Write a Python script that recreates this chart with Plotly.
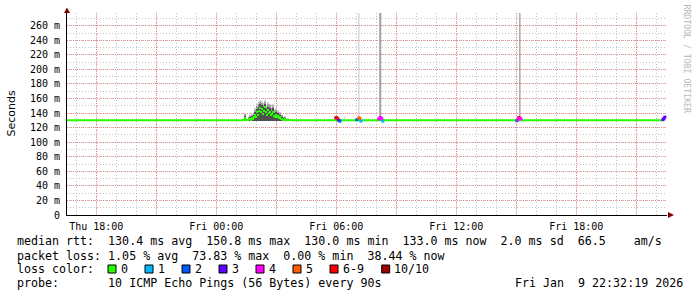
import plotly.graph_objects as go
import pandas as pd
import numpy as np

# ---------------- data ----------------
T_START = "2026-01-08 16:32:19"
T_END = "2026-01-09 22:32:19"

# smoke bump (Fri early morning), one RRD step (3 min) per value, starting 01:20
BUMP_START = "2026-01-09 01:20"
BUMP_STEP_MIN = 3
smoke_min = [129.5] * 49
smoke_max = [131, 131, 140, 133, 131, 132, 135, 137, 134, 139, 136, 141, 147, 144, 152, 149,
             155, 158, 153, 157, 149, 154, 158, 151, 147, 155, 150, 153, 146, 149, 152, 145,
             143, 147, 141, 144, 139, 142, 137, 138, 135, 134, 136, 133, 132, 133, 131, 132, 131]
smoke_q3 = [130.8, 130.8, 138.4, 132.5, 130.8, 131.6, 134.1, 135.8, 133.1, 137.5, 134.9, 139.3,
            144.5, 141.8, 149.3, 146.3, 152, 155.3, 150, 154, 146.5, 151.3, 155.8, 148.5, 144.5,
            152.3, 147.5, 150.5, 143.8, 146.5, 149.5, 142.8, 141, 144.8, 139.3, 142, 137.5, 140,
            135.8, 136.8, 134, 133.3, 135, 132.4, 131.5, 132.4, 130.8, 131.5, 130.8]
smoke_q2 = [130.4, 130.4, 136.5, 131.9, 130.4, 131.2, 133.1, 134.3, 132.1, 135.7, 133.5, 137.2,
            141.5, 139, 146, 143, 148.5, 152, 146.5, 150.5, 143.5, 148, 153, 145.5, 141.5, 149,
            144.5, 147, 141, 143.5, 146.5, 140, 138.5, 142, 137, 139.5, 135.5, 137.5, 134, 134.5,
            132.8, 132.3, 133.8, 131.6, 130.9, 131.6, 130.4, 130.9, 130.4]
bump_median = [130, 130, 133.5, 131, 130, 130.5, 131.5, 132, 130.5, 133, 131.5, 134, 137, 135,
               141, 138, 143, 147, 141, 145, 139, 143, 149, 141, 137, 144, 140, 142, 137, 139,
               142, 136, 135, 138, 134, 136, 133, 134.5, 132, 132.5, 131, 131, 132, 130.5, 130,
               130.5, 130, 130, 130]

# median rtt line outside the bump
median_times_before = ["2026-01-08 16:32:19", "2026-01-09 01:19"]
median_before = [130.0, 130.0]
median_times_after = ["2026-01-09 03:46", "2026-01-09 03:59", "2026-01-09 04:02", "2026-01-09 04:05",
                      "2026-01-09 22:19"]
median_after = [130.0, 130.0, 131.0, 130.0, 130.0]

# spikes (single pings far above the median)
spike_times = ["2026-01-09 06:26", "2026-01-09 07:08", "2026-01-09 08:12", "2026-01-09 12:59",
               "2026-01-09 15:11"]
spike_low = [131, 131, 131, 131, 131]
spike_high = [136, 400, 400, 134, 400]
spike_colors = ["#cfcfcf", "#c8c8c8", "#a0a0a0", "#d4d4d4", "#808080"]
spike_widths = [1, 1, 2, 1, 1]

# loss-coloured median samples
loss_times = ["2026-01-09 05:59", "2026-01-09 06:02", "2026-01-09 06:05", "2026-01-09 06:08",
              "2026-01-09 06:11",
              "2026-01-09 07:02", "2026-01-09 07:08", "2026-01-09 07:11", "2026-01-09 07:14",
              "2026-01-09 08:08", "2026-01-09 08:11", "2026-01-09 08:14", "2026-01-09 08:17",
              "2026-01-09 08:20",
              "2026-01-09 15:02", "2026-01-09 15:05", "2026-01-09 15:08", "2026-01-09 15:11",
              "2026-01-09 15:14",
              "2026-01-09 22:20", "2026-01-09 22:23", "2026-01-09 22:26"]
loss_values = [133.5, 133.5, 132, 130, 129,
               131, 133.5, 132.5, 129,
               132, 133.5, 133.5, 132, 129,
               129.5, 131, 134, 133, 132,
               131, 132.5, 134.5]
loss_levels = [7, 6, 6, 3, 2,
               2, 5, 5, 1,
               4, 4, 4, 4, 1,
               2, 4, 6, 4, 4,
               3, 3, 3]

loss_labels = ["0", "1", "2", "3", "4", "5", "6-9", "10/10"]
loss_palette = ["#26ff00", "#00b8ff", "#0059ff", "#5e00ff", "#ff00ff", "#ff5e00", "#ff0000", "#a00000"]

y_tick_values = [0, 20, 40, 60, 80, 100, 120, 140, 160, 180, 200, 220, 240, 260]
y_tick_labels = ["0", "20 m", "40 m", "60 m", "80 m", "100 m", "120 m", "140 m", "160 m",
                 "180 m", "200 m", "220 m", "240 m", "260 m"]
x_tick_values = ["2026-01-08 18:00", "2026-01-08 21:00", "2026-01-09 00:00", "2026-01-09 03:00",
                 "2026-01-09 06:00", "2026-01-09 09:00", "2026-01-09 12:00", "2026-01-09 15:00",
                 "2026-01-09 18:00", "2026-01-09 21:00"]
x_tick_labels = ["Thu 18:00", "", "Fri 00:00", "", "Fri 06:00", "", "Fri 12:00", "",
                 "Fri 18:00", ""]

line_rtt = "median rtt:  130.4 ms avg  150.8 ms max  130.0 ms min  133.0 ms now  2.0 ms sd  66.5    am/s"
line_loss = "packet loss: 1.05 % avg  73.83 % max  0.00 % min  38.44 % now"
line_probe = "probe:       10 ICMP Echo Pings (56 Bytes) every 90s"
line_date = "Fri Jan  9 22:32:19 2026"

# ---------------- layout geometry ----------------
W, H = 697, 297
L, R, TOP, BOT = 67, 30, 13, 82
PW = W - L - R
PH = H - TOP - BOT
MONO = "DejaVu Sans Mono"


def fx(px):
    return (px - L) / PW


def fy(py):
    return (H - BOT - py) / PH


def dt(values):
    return pd.to_datetime(values, format="ISO8601")


fig = go.Figure()

bt = pd.date_range(BUMP_START, periods=len(bump_median), freq=f"{BUMP_STEP_MIN}min")
lo = np.array(smoke_min)
bar_w = BUMP_STEP_MIN * 60 * 1000
for top, col in [(smoke_max, "#cccccc"), (smoke_q3, "#9c9c9c"), (smoke_q2, "#505050")]:
    fig.add_trace(go.Bar(x=bt, base=lo, y=np.array(top) - lo, width=bar_w,
                         marker=dict(color=col, line=dict(width=0)), hoverinfo="skip"))

for t, a, b, c, w in zip(spike_times, spike_low, spike_high, spike_colors, spike_widths):
    fig.add_trace(go.Scatter(x=[t, t], y=[a, b], mode="lines",
                             line=dict(color=c, width=w), hoverinfo="skip"))

# flat parts of the median line
for xs, ys in [(median_times_before, median_before), (median_times_after, median_after)]:
    fig.add_trace(go.Scatter(x=dt(xs), y=ys, mode="lines",
                             line=dict(color=loss_palette[0], width=2), hoverinfo="skip"))
# median inside the bump: drawn per step as a thin band (SmokePing style)
MED_THICK = 2.75
fig.add_trace(go.Bar(x=bt, base=np.array(bump_median) - MED_THICK / 2,
                     y=[MED_THICK] * len(bump_median), width=bar_w,
                     marker=dict(color=loss_palette[0], line=dict(width=0)), hoverinfo="skip"))

fig.add_trace(go.Scatter(x=dt(loss_times), y=loss_values, mode="markers",
                         marker=dict(symbol="square", size=3,
                                     color=[loss_palette[i] for i in loss_levels],
                                     line=dict(width=0)),
                         hoverinfo="skip"))

MGRID = "rgba(222,79,79,0.55)"
GRID = "rgba(143,143,143,0.55)"

fig.update_xaxes(type="date", range=[T_START, T_END],
                 tickmode="array", tickvals=x_tick_values, ticktext=x_tick_labels,
                 tickfont=dict(family=MONO, size=10, color="#000"),
                 showgrid=True, gridcolor=MGRID, griddash="1px,1px", gridwidth=1,
                 minor=dict(showgrid=True, dtick=3600000, tick0="2026-01-08 17:00",
                            gridcolor=GRID, griddash="1px,2px", gridwidth=1),
                 showline=True, linecolor="#000", linewidth=1, zeroline=False,
                 ticks="", ticklabelstandoff=2)
fig.update_yaxes(range=[0, 277.5], tickmode="array", tickvals=y_tick_values,
                 ticktext=y_tick_labels,
                 tickfont=dict(family=MONO, size=10, color="#000"),
                 showgrid=True, gridcolor=MGRID, griddash="1px,1px", gridwidth=1,
                 minor=dict(showgrid=True, dtick=10, tick0=0,
                            gridcolor=GRID, griddash="1px,2px", gridwidth=1),
                 showline=True, linecolor="#000", linewidth=1, zeroline=False,
                 ticks="", ticklabelstandoff=4)

ann = []
FS = 11.65
TX = 14.5
for txt, py in [(line_rtt, 241), (line_loss, 255.5), (line_probe, 283.3)]:
    ann.append(dict(text=txt, x=fx(TX), y=fy(py), xanchor="left", yanchor="middle"))
ann.append(dict(text="loss color:", x=fx(TX), y=fy(269.3), xanchor="left", yanchor="middle"))
ann.append(dict(text=line_date, x=fx(512.5), y=fy(283.3), xanchor="left", yanchor="middle"))

shapes = []
sq_x = [108, 145, 182, 219, 256, 293, 330, 381.7]
for sx, lab, col in zip(sq_x, loss_labels, loss_palette):
    shapes.append(dict(type="rect", xref="paper", yref="paper",
                       x0=fx(sx), x1=fx(sx + 8), y0=fy(273), y1=fy(265),
                       fillcolor=col, line=dict(color="#000", width=1)))
    ann.append(dict(text=lab, x=fx(sx + 10.5), y=fy(269.3), xanchor="left", yanchor="middle"))

annotations = []
for a in ann:
    a.update(xref="paper", yref="paper", showarrow=False,
             font=dict(family=MONO, size=FS, color="#000"))
    annotations.append(a)

annotations.append(dict(text="Seconds", x=fx(10.5), y=fy(114), xref="paper", yref="paper",
                        xanchor="center", yanchor="middle",
                        showarrow=False, textangle=-90,
                        font=dict(family="DejaVu Sans", size=11, color="#000")))
annotations.append(dict(text="RRDTOOL / TOBI OETIKER", x=fx(686.5), y=fy(59), xref="paper",
                        yref="paper", xanchor="center", yanchor="middle",
                        showarrow=False, textangle=90,
                        font=dict(family=MONO, size=8.2, color="#b8b8b8")))

# axis arrows
shapes.append(dict(type="path", xref="paper", yref="paper", fillcolor="#800000",
                   line=dict(color="#800000", width=0),
                   path=f"M {fx(64)} {fy(13)} L {fx(70)} {fy(13)} L {fx(67)} {fy(7.5)} Z"))
shapes.append(dict(type="path", xref="paper", yref="paper", fillcolor="#800000",
                   line=dict(color="#800000", width=0),
                   path=f"M {fx(668)} {fy(212)} L {fx(668)} {fy(218)} L {fx(674)} {fy(215)} Z"))

fig.update_layout(width=W, height=H, margin=dict(l=L, r=R, t=TOP, b=BOT),
                  paper_bgcolor="white", plot_bgcolor="white", showlegend=False,
                  barmode="overlay", bargap=0,
                  annotations=annotations, shapes=shapes)

fig.write_html("out.html")
